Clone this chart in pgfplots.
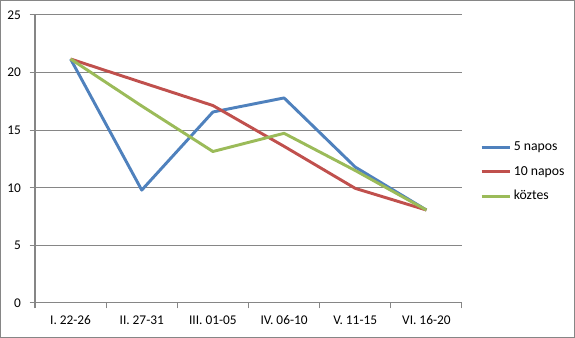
\documentclass[border=0pt]{standalone}
\usepackage{pgfplots}
\pgfplotsset{compat=1.18}
\usepackage{fontspec}
\setmainfont{Carlito}
\definecolor{sblue}{HTML}{4F81BD}
\definecolor{sred}{HTML}{C0504D}
\definecolor{sgreen}{HTML}{9BBB59}
\definecolor{axgray}{HTML}{868686}
\begin{document}
\begin{tikzpicture}
\draw[axgray, line width=0.75pt] (0.375pt,0.375pt) rectangle (430.875pt,253.125pt);
\path[use as bounding box] (0pt,0pt) rectangle (431.25pt,253.5pt);
\begin{axis}[
  at={(26.25pt,26.25pt)}, anchor=south west,
  scale only axis, width=320.25pt, height=216pt,
  xmin=-0.5, xmax=5.5, ymin=0, ymax=25,
  axis x line=bottom, axis y line=left,
  axis line style={axgray, line width=0.75pt, -},
  xtick={0,...,5},
  xticklabels={I. 22-26, II. 27-31, III. 01-05, IV. 06-10, V. 11-15, VI. 16-20},
  major x tick style={draw=none},
  minor xtick={-0.5,0.5,...,5.5},
  minor x tick style={axgray, line width=0.75pt},
  minor tick length=4pt,
  ytick={0,5,...,25},
  ymajorgrids, grid style={axgray, line width=0.75pt},
  major y tick style={axgray, line width=0.75pt},
  major tick length=4pt,
  tick align=outside,
  tick label style={font=\fontsize{10}{12}\selectfont, text=black},
  xticklabel style={yshift=-2pt},
  yticklabel style={xshift=-3pt},
  /pgf/number format/assume math mode=true,
  legend style={at={(1.042,0.455)}, anchor=west, draw=none, fill=none,
    font=\fontsize{10.3}{12}\selectfont, row sep=6pt, inner sep=0pt},
  legend cell align=left,
  legend image code/.code={\draw[#1, line width=2.2pt] (0pt,0pt) -- (21pt,0pt);},
  clip=false,
]
\addplot[sblue, line width=2.2pt, line join=round] coordinates {(0,21.18) (1,9.8) (2,16.58) (3,17.8) (4,11.8) (5,8.07)};
\addplot[sred, line width=2.2pt, line join=round] coordinates {(0,21.18) (1,19.15) (2,17.14) (3,13.6) (4,9.95) (5,8.07)};
\addplot[sgreen, line width=2.2pt, line join=round] coordinates {(0,21.18) (1,17.1) (2,13.15) (3,14.73) (4,11.5) (5,8.07)};
\legend{5 napos, 10 napos, köztes}
\end{axis}
\end{tikzpicture}
\end{document}
